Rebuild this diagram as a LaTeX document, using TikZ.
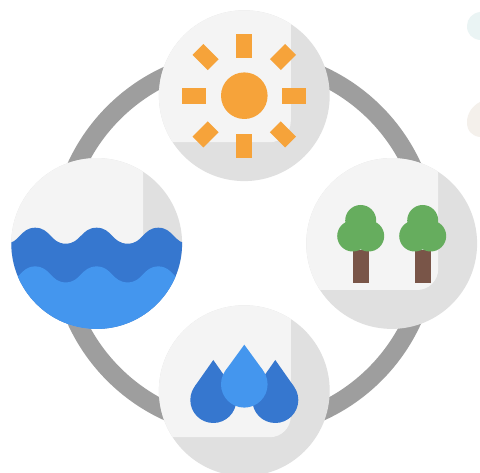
\documentclass[tikz,border=0pt]{standalone}
\definecolor{ringgray}{HTML}{9E9E9E}
\definecolor{panelfill}{HTML}{F4F4F4}
\definecolor{shadefill}{HTML}{E0E0E0}
\definecolor{sunfill}{HTML}{F6A33A}
\definecolor{leaffill}{HTML}{66AD5E}
\definecolor{barkfill}{HTML}{795548}
\definecolor{lightblue}{HTML}{4496EE}
\definecolor{darkblue}{HTML}{3677CF}
\definecolor{blobteal}{HTML}{EAF4F4}
\definecolor{blobsand}{HTML}{F4F0EB}
\newcommand{\badge}[2]{%
  \begin{scope}
    \clip (#1,#2) circle[radius=85.4];
    \fill[shadefill] (#1-90,#2-90) rectangle (#1+90,#2+90);
    \fill[panelfill,rounded corners=21pt] (#1-120,#2-120) rectangle (#1+46.5,#2+46.5);
  \end{scope}}
\newcommand{\droplet}[5]{%
  \fill[#5] (#1,#2) circle[radius=#3];
  \fill[#5] (#1,#4) -- (#1-0.809*#3,#2-0.588*#3) -- (#1+0.809*#3,#2-0.588*#3) -- cycle;}
\newcommand{\tree}[1]{%
  \fill[barkfill] (#1-7.8,250) rectangle (#1+7.8,282.7);
  \fill[leaffill] (#1,220.5) circle[radius=15.5];
  \fill[leaffill] (#1-8,236) circle[radius=15.5];
  \fill[leaffill] (#1+8,236) circle[radius=15.5];}
\begin{document}
\begin{tikzpicture}[x=1pt,y=-1pt]
\useasboundingbox (0,0) rectangle (480,473);
\fill[white] (0,0) rectangle (480,473);
% background blobs
\fill[blobteal] (480,12) .. controls (472,13) and (467,19) .. (467,26) .. controls (467,34) and (472,39) .. (480,40) -- cycle;
\fill[blobsand] (480,102) .. controls (472,106) and (467,114) .. (467,122) .. controls (467,131) and (472,136) .. (480,137) -- cycle;
% ring
\draw[ringgray,line width=18.5pt] (244.3,243.5) circle[radius=184.8];
% badges
\badge{244.3}{95.7}
\badge{391.7}{243.5}
\badge{244.3}{390.7}
\badge{96.7}{243.5}
% sun
\fill[sunfill] (244.3,95.7) circle[radius=23.3];
\foreach \a in {0,90,180,270}
  \fill[sunfill,shift={(244.3,95.7)},rotate=\a] (-8,-62) rectangle (8,-38);
\foreach \a in {45,135,225,315}
  \fill[sunfill,shift={(244.3,95.7)},rotate=\a] (-7.7,-65.5) rectangle (7.7,-44);
% trees
\tree{360.7}
\tree{422.7}
% drops
\droplet{213.3}{400}{23}{360}{darkblue}
\droplet{275.3}{400}{23}{360}{darkblue}
\droplet{244.3}{384.3}{23.3}{344.7}{lightblue}
% water
\begin{scope}
  \clip (96.7,243.5) circle[radius=85.4];
  \fill[darkblue] (4.9,243.7) .. controls (20,243.7) and (20,227.7) .. (35.2,227.7)
    .. controls (50.5,227.7) and (50.5,243.7) .. (65.7,243.7)
    .. controls (81,243.7) and (81,227.7) .. (96.7,227.7)
    .. controls (112,227.7) and (112,243.7) .. (127.7,243.7)
    .. controls (143,243.7) and (143,227.7) .. (158.3,227.7)
    .. controls (173.5,227.7) and (173.5,243.7) .. (189,243.7)
    -- (189,335) -- (4.9,335) -- cycle;
  \fill[lightblue] (4.9,282.4) .. controls (20,282.4) and (20,266.4) .. (35.2,266.4)
    .. controls (50.5,266.4) and (50.5,282.4) .. (65.7,282.4)
    .. controls (81,282.4) and (81,266.4) .. (96.7,266.4)
    .. controls (112,266.4) and (112,282.4) .. (127.7,282.4)
    .. controls (143,282.4) and (143,266.4) .. (158.3,266.4)
    .. controls (173.5,266.4) and (173.5,282.4) .. (189,282.4)
    -- (189,335) -- (4.9,335) -- cycle;
\end{scope}
\end{tikzpicture}
\end{document}
